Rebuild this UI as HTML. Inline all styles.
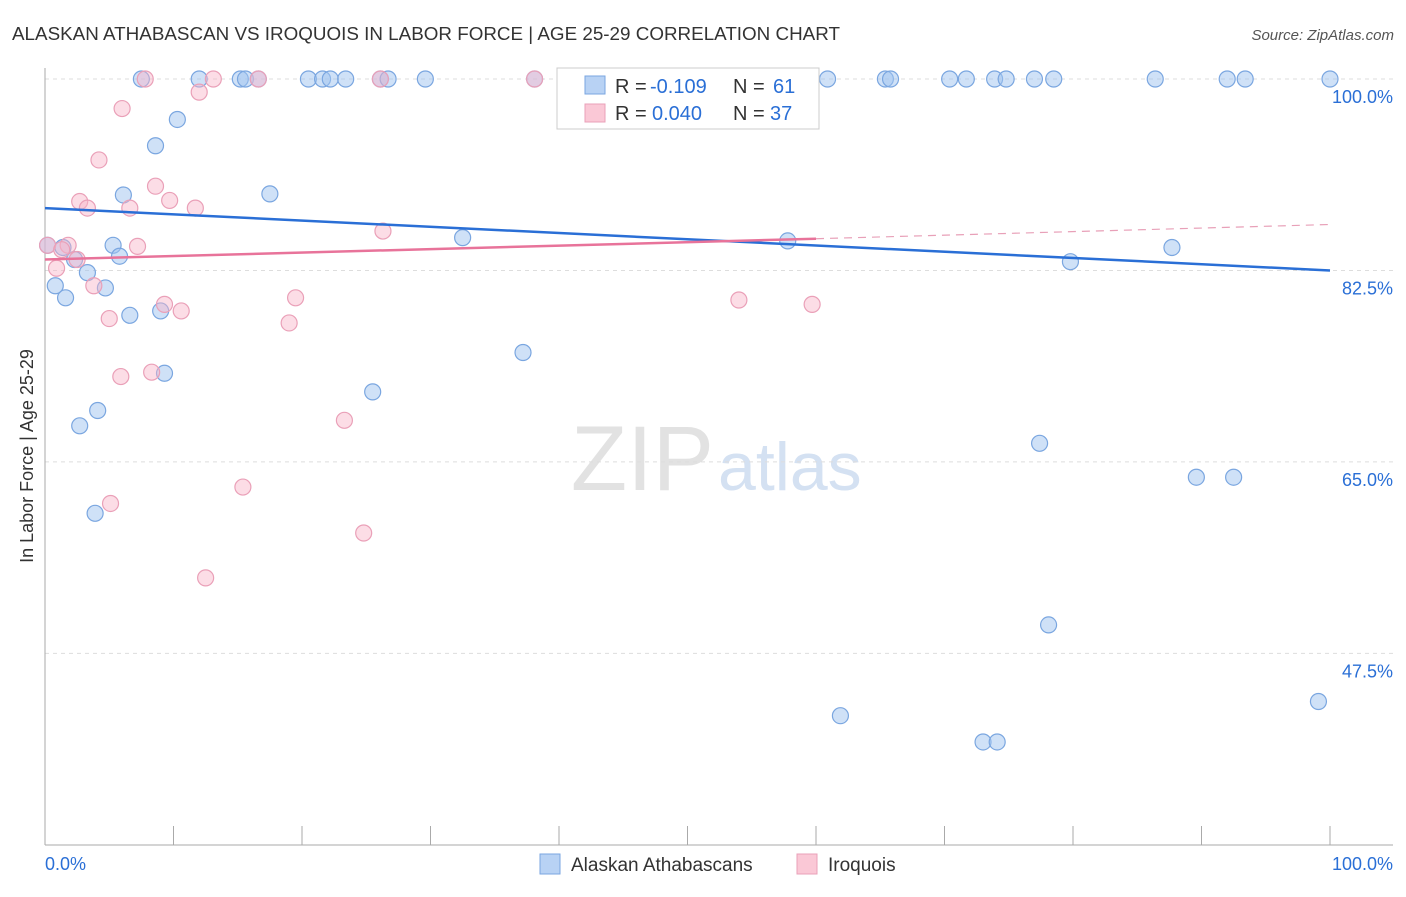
<!DOCTYPE html>
<html><head><meta charset="utf-8"><style>
body{margin:0;background:#fff;font-family:"Liberation Sans",sans-serif}
svg text{font-family:"Liberation Sans",sans-serif}
</style></head><body>
<svg id="c" width="1406" height="892">
<text x="12" y="40" font-size="18" fill="#333" textLength="828" lengthAdjust="spacingAndGlyphs">ALASKAN ATHABASCAN VS IROQUOIS IN LABOR FORCE | AGE 25-29 CORRELATION CHART</text>
<text x="1394" y="40" font-size="15" fill="#555" text-anchor="end" font-style="italic">Source: ZipAtlas.com</text>
<text x="714" y="490" font-size="92" fill="#e2e2e2" text-anchor="end" font-family="Liberation Serif">ZIP</text>
<text x="718" y="490" font-size="68" fill="#d4e1f2">atlas</text>
<g id="grid"></g><g id="axes"></g><g id="pts"></g><g id="lines"></g>
<text transform="translate(33,456) rotate(-90)" font-size="18" fill="#333" text-anchor="middle">In Labor Force | Age 25-29</text>
<g>
<rect x="557" y="68" width="262" height="61" fill="#fff" stroke="#ccc"/>
<rect x="585" y="76" width="20" height="18" fill="#b8d2f4" stroke="#7aa6e0"/>
<rect x="585" y="104" width="20" height="18" fill="#fac8d6" stroke="#eaa0b8"/>
<text x="615" y="93" font-size="20" fill="#333">R =</text>
<text x="650" y="93" font-size="20" fill="#2a6fd6">-0.109</text>
<text x="733" y="93" font-size="20" fill="#333">N =</text>
<text x="773" y="93" font-size="20" fill="#2a6fd6">61</text>
<text x="615" y="120" font-size="20" fill="#333">R =</text>
<text x="652" y="120" font-size="20" fill="#2a6fd6">0.040</text>
<text x="733" y="120" font-size="20" fill="#333">N =</text>
<text x="770" y="120" font-size="20" fill="#2a6fd6">37</text>
</g>
<g>
<rect x="540" y="854" width="20" height="20" fill="#b8d2f4" stroke="#7aa6e0"/>
<text x="571" y="871" font-size="19" fill="#333">Alaskan Athabascans</text>
<rect x="797" y="854" width="20" height="20" fill="#fac8d6" stroke="#eaa0b8"/>
<text x="828" y="871" font-size="19" fill="#333">Iroquois</text>
</g>
</svg>
<script>
const yTicks=[100,82.5,65,47.5];
const yTickLabels=["100.0%","82.5%","65.0%","47.5%"];
const xTickLabels=["0.0%","100.0%"];
const blueX=[7.5,12.0,15.2,15.6,16.6,20.5,21.6,22.2,23.4,26.1,26.7,29.6,38.1,50.0,53.0,60.9,65.4,65.8,70.4,71.7,73.9,74.8,77.0,78.5,86.4,92.0,93.4,100,10.3,8.6,6.1,17.5,5.3,5.8,0.2,1.4,2.3,3.3,0.8,4.7,1.6,6.6,9.0,32.5,57.8,87.7,79.8,37.2,9.3,25.5,4.1,2.7,3.9,77.4,89.6,92.5,78.1,61.9,73.0,74.1,99.1];
const blueY=[100,100,100,100,100,100,100,100,100,100,100,100,100,100,100,100,100,100,100,100,100,100,100,100,100,100,100,100,96.3,93.9,89.4,89.5,84.8,83.8,84.8,84.6,83.5,82.3,81.1,80.9,80.0,78.4,78.8,85.5,85.2,84.6,83.3,75.0,73.1,71.4,69.7,68.3,60.3,66.7,63.6,63.6,50.1,41.8,39.4,39.4,43.1];
const pinkX=[7.8,13.1,16.6,26.1,38.1,12.0,6.0,4.2,8.6,2.7,9.7,3.3,6.6,11.7,26.3,0.2,1.8,1.3,2.5,0.9,7.2,3.8,9.3,19.5,10.6,5.0,19.0,54.0,59.7,5.9,8.3,23.3,15.4,5.1,24.8,12.5];
const pinkY=[100,100,100,100,100,98.8,97.3,92.6,90.2,88.8,88.9,88.2,88.2,88.2,86.1,84.8,84.8,84.4,83.5,82.7,84.7,81.1,79.4,80.0,78.8,78.1,77.7,79.8,79.4,72.8,73.2,68.8,62.7,61.2,58.5,54.4];
const blueTrend=[88.2,82.5];
const pinkTrend=[83.5,85.4,86.7];
const NS="http://www.w3.org/2000/svg";
const X=v=>45+v*12.85, Y=v=>79+(100-v)*10.94;
function mk(p,t,a){const e=document.createElementNS(NS,t);for(const k in a)e.setAttribute(k,a[k]);document.getElementById(p).appendChild(e);return e;}
yTicks.forEach((t,i)=>{
 const g=mk('grid','line',{x1:45,x2:1393,y1:Y(t),y2:Y(t),stroke:'#ddd','stroke-dasharray':'4,4'});
 
 
 const l=mk('grid','text',{x:1393,y:Y(t)+24,'font-size':18,fill:'#2a6fd6','text-anchor':'end'});l.textContent=yTickLabels[i];
 
 
});
const ax=mk('axes','line',{x1:45,x2:45,y1:68,y2:845,stroke:'#aaa'});


const bx=mk('axes','line',{x1:45,x2:1393,y1:845,y2:845,stroke:'#aaa'});


for(let i=0;i<=10;i++){const t=mk('axes','line',{x1:X(i*10),x2:X(i*10),y1:826,y2:845,stroke:'#aaa'});
 
 }
[[0,'start',45],[100,'end',1393]].forEach((d,i)=>{const t=mk('axes','text',{x:d[2],y:870,'font-size':18,fill:'#2a6fd6','text-anchor':d[1]});t.textContent=xTickLabels[i];
 
 });
blueX.forEach((x,i)=>{const c=mk('pts','circle',{cx:X(x),cy:Y(blueY[i]),r:8,fill:'rgba(160,196,240,0.5)',stroke:'#7aa6e0','stroke-width':1.2});
 
 });
pinkX.forEach((x,i)=>{const c=mk('pts','circle',{cx:X(x),cy:Y(pinkY[i]),r:8,fill:'rgba(248,180,200,0.45)',stroke:'#eaa0b8','stroke-width':1.2});
 
 });
const bl=mk('lines','line',{x1:X(0),y1:Y(blueTrend[0]),x2:X(100),y2:Y(blueTrend[1]),stroke:'#2a6fd6','stroke-width':2.5});


const pl=mk('lines','line',{x1:X(0),y1:Y(pinkTrend[0]),x2:X(60),y2:Y(pinkTrend[1]),stroke:'#e8739a','stroke-width':2.5});


const pd=mk('lines','line',{x1:X(60),y1:Y(pinkTrend[1]),x2:X(100),y2:Y(pinkTrend[2]),stroke:'#e8a0b8','stroke-width':1.2,'stroke-dasharray':'8,6'});


</script>
</body></html>
